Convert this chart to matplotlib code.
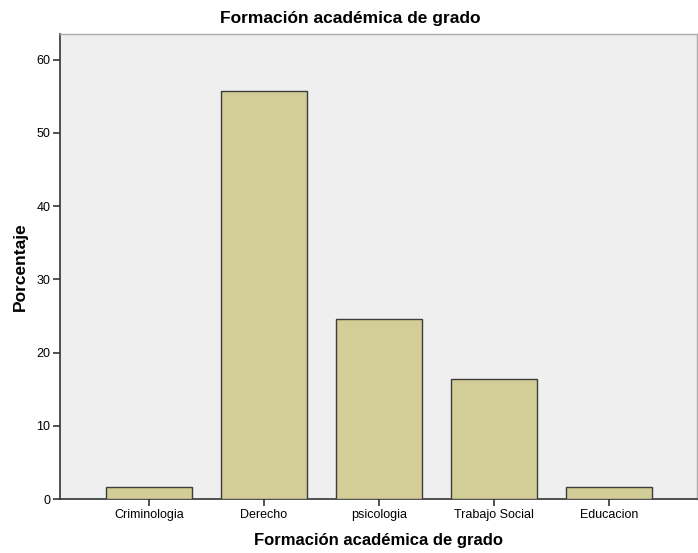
import matplotlib
matplotlib.use("Agg")
import matplotlib.pyplot as plt

categories = ["Criminologia", "Derecho", "psicologia", "Trabajo Social", "Educacion"]
values = [1.64, 55.74, 24.59, 16.39, 1.64]
yticks = [0, 10, 20, 30, 40, 50, 60]

plt.rcParams['font.family'] = ['Liberation Sans', 'DejaVu Sans']

fig = plt.figure(figsize=(6.98, 5.53), dpi=100)
ax = fig.add_axes([60/698, 1-499/553, (697-60)/698, (499-34)/553])
ax.set_facecolor('#EFEFEF')
x = list(range(len(categories)))
ax.bar(x, values, width=0.75, color='#D3CE98', edgecolor='#3C3C3C', linewidth=1.0, zorder=3)
ax.set_xlim(-0.774, 4.765)
ax.set_ylim(0, 63.5)
ax.set_yticks(yticks)
ax.set_yticklabels([str(v) for v in yticks], fontsize=9)
ax.set_xticks(x)
ax.set_xticklabels(categories, fontsize=9)
ax.tick_params(axis='both', length=5, width=1.2, color='#333333', pad=2)
for s in ['left', 'bottom']:
    ax.spines[s].set_color('#333333')
    ax.spines[s].set_linewidth(1.2)
for s in ['top', 'right']:
    ax.spines[s].set_color('#AAAAAA')
    ax.spines[s].set_linewidth(1.0)
fig.text(350/698, 1-19/553, "Formación académica de grado", fontsize=12.5,
         fontweight='bold', ha='center', va='center')
ax.set_xlabel("Formación académica de grado", fontsize=12, fontweight='bold', labelpad=9)
ax.set_ylabel("Porcentaje", fontsize=12.5, fontweight='bold', labelpad=6)
fig.savefig("out.png", dpi=100)
